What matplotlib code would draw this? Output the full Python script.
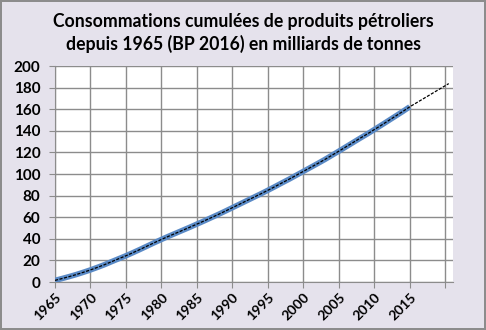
import matplotlib.pyplot as plt

# Consommation cumulée depuis 1965 (milliards de tonnes)
annees = list(range(1965, 2016))
cumul = [1.5, 3.2, 5.0, 6.9, 9.0, 11.2, 13.6, 16.1, 18.9, 21.6,
         24.3, 27.2, 30.2, 33.3, 36.4, 39.4, 42.3, 45.1, 47.9, 50.7,
         53.6, 56.5, 59.5, 62.5, 65.6, 68.8, 72.0, 75.2, 78.4, 81.6,
         84.9, 88.3, 91.8, 95.2, 98.8, 102.4, 106.0, 109.6, 113.3, 117.2,
         121.1, 125.1, 129.1, 133.1, 137.0, 141.1, 145.2, 149.4, 153.6, 157.8,
         162.2]
# prolongation de la tendance
annees_proj = [2015, 2020.5]
proj = [162.2, 183.7]

ticks_x = list(range(1965, 2021, 5))
labels_x = [str(a) for a in range(1965, 2016, 5)] + [""]

plt.rcParams['font.family'] = ['Lato', 'DejaVu Sans']

fig = plt.figure(figsize=(4.86, 3.30), dpi=100, facecolor='#e5e2ec',
                 edgecolor='#8c8c8c', linewidth=1.5)
ax = fig.add_axes([55 / 486, 1 - 282 / 330, 398 / 486, 216 / 330])
ax.set_facecolor('white')

ax.plot(annees, cumul, color='#5a8ac6', linewidth=4, solid_capstyle='butt', zorder=3)

# courbe de tendance (pointillés noirs)
ax.plot(annees + annees_proj[1:], cumul + proj[1:], color='black', linewidth=0.9,
        linestyle=(0, (2.5, 1.2)), zorder=4)

ax.set_xlim(1965, 2021.1)
ax.set_ylim(0, 200)
ax.set_yticks(range(0, 201, 20))
ax.set_xticks(ticks_x)
ax.set_xticklabels(labels_x, rotation=45, ha='right', rotation_mode='anchor',
                   fontsize=10, fontweight='bold')
for t in ax.get_yticklabels():
    t.set_fontsize(11)
    t.set_fontweight('bold')

ax.grid(True, color='#8c8c8c', linewidth=1)
ax.set_axisbelow(True)
ax.tick_params(axis='both', length=4.5, color='#8c8c8c', pad=2)
ax.tick_params(axis='y', pad=6)
for s in ['top', 'right']:
    ax.spines[s].set_visible(False)
for s in ['left', 'bottom']:
    ax.spines[s].set_color('#8c8c8c')

fig.text(0.5, 0.962, "Consommations cumulées de produits pétroliers\ndepuis 1965 (BP 2016) en milliards de tonnes",
         ha='center', va='top', fontsize=12.7, fontweight='bold', linespacing=1.36)

fig.savefig('out.png', dpi=100, facecolor=fig.get_facecolor(), edgecolor=fig.get_edgecolor())
